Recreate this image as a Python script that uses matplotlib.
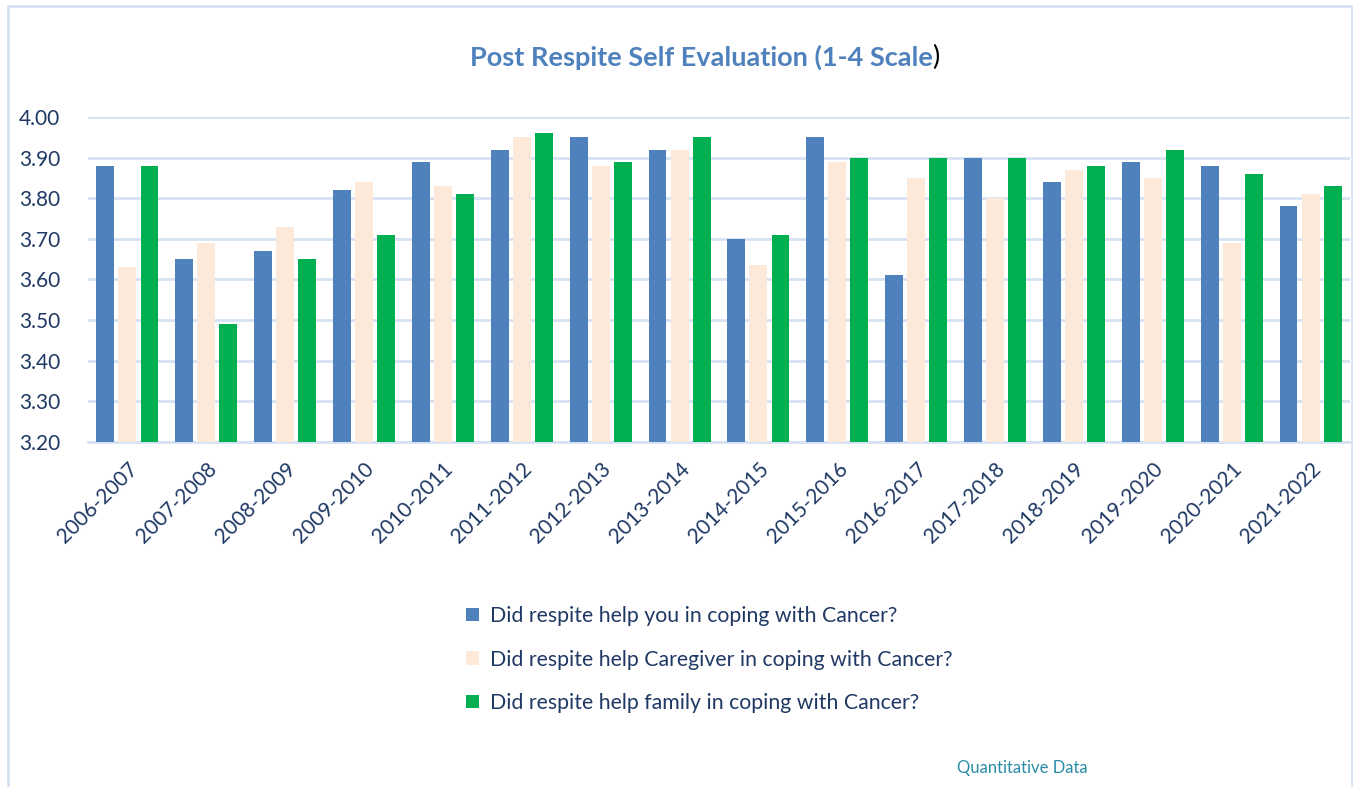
import matplotlib.pyplot as plt
import numpy as np
from matplotlib.patches import Rectangle

plt.rcParams['font.family'] = ['Lato', 'DejaVu Sans']

seasons = ['2006-2007', '2007-2008', '2008-2009', '2009-2010', '2010-2011',
           '2011-2012', '2012-2013', '2013-2014', '2014-2015', '2015-2016',
           '2016-2017', '2017-2018', '2018-2019', '2019-2020', '2020-2021',
           '2021-2022']
you = [3.88, 3.65, 3.67, 3.82, 3.89, 3.92, 3.95, 3.92, 3.70, 3.95,
       3.61, 3.90, 3.84, 3.89, 3.88, 3.78]
caregiver = [3.63, 3.69, 3.73, 3.84, 3.83, 3.95, 3.88, 3.92, 3.635, 3.89,
             3.85, 3.80, 3.87, 3.85, 3.69, 3.81]
family = [3.88, 3.49, 3.65, 3.71, 3.81, 3.96, 3.89, 3.95, 3.71, 3.90,
          3.90, 3.90, 3.88, 3.92, 3.86, 3.83]
labels = ['Did respite help you in coping with Cancer?',
          'Did respite help Caregiver in coping with Cancer?',
          'Did respite help family in coping with Cancer?']
colors = ['#4F81BD', '#FDE9D9', '#00B050']
text_col = '#1F3864'
grid_col = '#D6E2F3'

fig = plt.figure(figsize=(13.53, 7.87), dpi=100)
ax = fig.add_axes([88 / 1353, 1 - 442 / 787, 1262 / 1353, 325 / 787])

x = np.arange(len(seasons))
w = 0.227
step = 0.28
for i, (vals, c) in enumerate(zip([you, caregiver, family], colors)):
    ax.bar(x + (i - 1) * step, vals, width=w, color=c, label=labels[i], zorder=3)

ax.set_ylim(3.2, 4.0)
ax.set_xlim(-0.5, len(seasons) - 0.5)
ax.set_yticks(np.arange(3.2, 4.001, 0.1))
ax.set_yticklabels([f'{v:.2f}' for v in np.arange(3.2, 4.001, 0.1)])
ax.yaxis.grid(True, color=grid_col, linewidth=2, zorder=0)
for s in ['top', 'right', 'left']:
    ax.spines[s].set_visible(False)
ax.spines['bottom'].set_color(grid_col)
ax.spines['bottom'].set_linewidth(2)
ax.tick_params(axis='both', length=0, colors=text_col, labelsize=15)
ax.tick_params(axis='y', pad=20)
ax.tick_params(axis='x', pad=12)
ax.set_xticks(x)
ax.set_xticklabels(seasons, rotation=45, ha='right', rotation_mode='anchor')

# title: blue text with a black closing bracket
t = fig.text(701 / 1353, 1 - 57 / 787, 'Post Respite Self Evaluation (1-4 Scale', color='#4F81BD',
             fontsize=19.5, fontweight='bold', ha='center', va='center')
fig.canvas.draw()
bb = t.get_window_extent()
fig.text(bb.x1 / fig.bbox.width, 1 - 57 / 787, ')', color='black', fontsize=19.5,
         ha='left', va='center')

handles, lbls = ax.get_legend_handles_labels()
fig.legend(handles, lbls, loc='upper left', bbox_to_anchor=(447 / 1353, 1 - 587 / 787),
           frameon=False, fontsize=15.3, labelcolor=text_col, handlelength=0.6,
           handleheight=0.6, handletextpad=0.5, labelspacing=1.1)

fig.text(957 / 1353, 1 - 768 / 787, 'Quantitative Data', color='#2A8CA6', fontsize=12,
         ha='left', va='center')

fig.patches.append(Rectangle((8 / 1353, -0.05), 1344 / 1353, 1.05 - 6 / 787,
                             transform=fig.transFigure, fill=False,
                             edgecolor=grid_col, linewidth=2))

fig.savefig('out.png', dpi=100)
